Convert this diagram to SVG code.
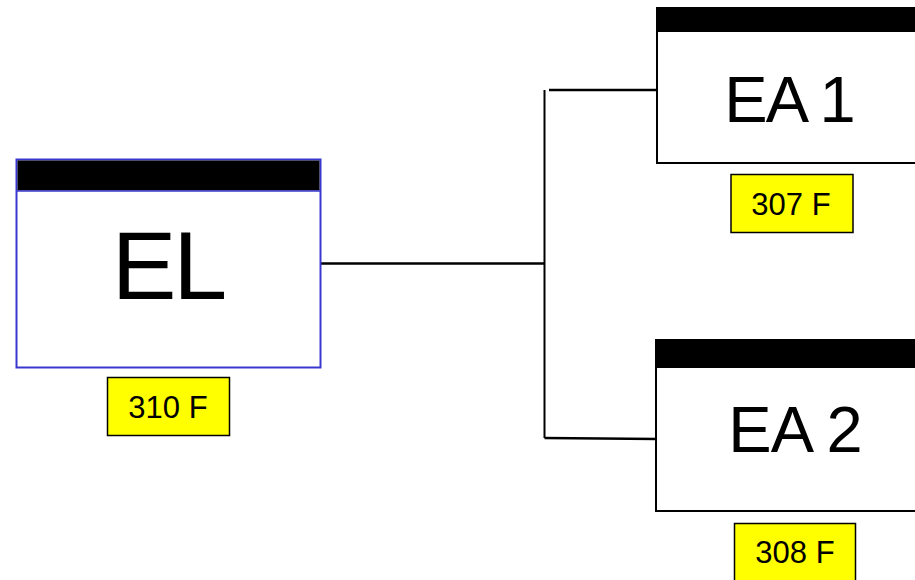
<svg xmlns="http://www.w3.org/2000/svg" width="915" height="580" viewBox="0 0 915 580">
<style>
.box{fill:#ffffff;stroke:#000000;stroke-width:2}
.hdr{fill:#000000}
.big{font-family:"Liberation Sans",Arial,sans-serif;fill:#000000;text-anchor:middle}
.tag{fill:#ffff00;stroke:#000000;stroke-width:1.5}
.tagt{font-family:"Liberation Sans",Arial,sans-serif;font-size:31px;fill:#000000;text-anchor:middle}
.ln{fill:none;stroke:#000000;stroke-width:2.5}
</style>
<rect width="915" height="580" fill="#ffffff"/>
<g id="connectors">
<line class="ln" x1="321" y1="263.5" x2="544.5" y2="263.5"/>
<line class="ln" x1="544.5" y1="90" x2="544.5" y2="438" style="stroke-width:2"/>
<line class="ln" x1="549" y1="90" x2="657" y2="90"/>
<line class="ln" x1="544.5" y1="438" x2="657" y2="439"/>
</g>
<g id="EL">
<rect x="16.5" y="159.5" width="304" height="208" fill="#ffffff" stroke="#3838d0" stroke-width="2"/>
<rect x="17.5" y="160.5" width="302" height="30" class="hdr"/>
<line x1="17" y1="191" x2="320" y2="191" stroke="#3838d0" stroke-width="1.5"/>
<text x="168" y="299" class="big" font-size="97" letter-spacing="-3">EL</text>
</g>
<g id="EL_tag">
<rect x="107.5" y="377.5" width="122" height="58" class="tag"/>
<text x="168" y="418" class="tagt">310 F</text>
</g>
<g id="EA1">
<rect x="657" y="8" width="270" height="155" class="box"/>
<rect x="657" y="8" width="270" height="24" class="hdr"/>
<text x="789" y="122" class="big" font-size="65" letter-spacing="-2">EA 1</text>
</g>
<g id="EA1_tag">
<rect x="731" y="174.5" width="122" height="58" class="tag"/>
<text x="791" y="215" class="tagt">307 F</text>
</g>
<g id="EA2">
<rect x="656" y="340" width="270" height="171" class="box"/>
<rect x="656" y="340" width="270" height="28" class="hdr"/>
<text x="795" y="452" class="big" font-size="65" letter-spacing="-1">EA 2</text>
</g>
<g id="EA2_tag">
<rect x="734.5" y="523.5" width="121" height="70" class="tag"/>
<text x="795" y="563" class="tagt">308 F</text>
</g>
</svg>
